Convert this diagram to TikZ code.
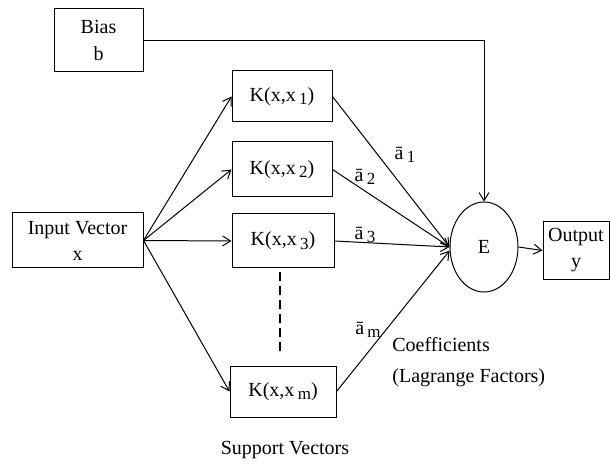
\documentclass[tikz,border=0pt]{standalone}
\usepackage{fontspec}
\setmainfont{Liberation Serif}
\usetikzlibrary{arrows.meta,calc,shapes.geometric}

\newcommand{\lowsub}[1]{\raisebox{-0.4ex}{\fontsize{8.5}{10}\selectfont #1}}

\tikzset{
  blockbox/.style={draw, line width=0.5pt, inner sep=0pt, align=center,
    font=\fontsize{10}{13}\selectfont},
  sumnode/.style={draw, ellipse, line width=0.5pt, inner sep=0pt,
    minimum width=34pt, minimum height=45pt, font=\fontsize{10}{12}\selectfont},
  wire/.style={line width=0.5pt, -{Straight Barb[length=4pt,width=5pt]}},
  coeflabel/.style={inner sep=0pt, font=\fontsize{10}{12}\selectfont},
  plaintext/.style={inner sep=0pt, align=left, font=\fontsize{10}{12}\selectfont}
}

\begin{document}
\begin{tikzpicture}[x=0.5pt, y=-0.5pt]

  \useasboundingbox (0,0) rectangle (610,470);

  % Boxes
  \node[blockbox, minimum width=44.5pt, minimum height=31.5pt] (bias) at (98.5, 40.5) {Bias\\[0.5pt]b};
  \node[blockbox, minimum width=65.5pt, minimum height=27.5pt] (input) at (77.5, 240.5) {Input Vector\\x};

  \node[blockbox, minimum width=50pt, minimum height=25.5pt] (k1) at (282, 96.5) {K(x,x\,\lowsub{1})};
  \node[blockbox, minimum width=50pt, minimum height=27.5pt] (k2) at (282, 169.5) {K(x,x\,\lowsub{2})};
  \node[blockbox, minimum width=51pt, minimum height=27pt] (k3) at (283, 241) {K(x,x\,\lowsub{3})};
  \node[blockbox, minimum width=53pt, minimum height=25.5pt] (km) at (283, 391.5) {K(x,x\,\lowsub{m})};

  \node[sumnode] (e) at (484, 247) {E};
  \node[blockbox, minimum width=33pt, minimum height=28.5pt] (output) at (576, 250.5) {Output\\y};

  % Input to kernels
  \foreach \k in {k1, k2, k3, km} {
    \draw[wire] (input.east) -- (\k.west);
  }

  % Kernels to summation
  \foreach \k in {k1, k2, k3} {
    \draw[wire] (\k.east) -- (e.west);
  }
  \draw[wire] (km.east) -- (e.186);

  % Bias and output
  \draw[wire] (bias.east) -| (e.north);
  \draw[wire] (e.east) -- (output.west);

  % Dots between kernels
  \coordinate (dtop) at (280, 272);
  \coordinate (dbot) at (280, 354);
  \draw[line width=1pt, dash pattern=on 4.5pt off 2.5pt] (dtop) -- (dbot);

  % Coefficient labels
  \node[coeflabel] (la1) at (405, 155) {ā\,\lowsub{1}};
  \node[coeflabel] (la2) at (365, 177) {ā\,\lowsub{2}};
  \node[coeflabel] (la3) at (365, 235) {ā\,\lowsub{3}};
  \node[coeflabel] (lam) at (368, 330) {ā\,\lowsub{m}};

  \node[plaintext, anchor=west] (coef) at (392, 345) {Coefficients};
  \node[plaintext, anchor=west] (lagr) at (392, 378) {(Lagrange Factors)};
  \node[plaintext] (supp) at (285, 450) {Support Vectors};

\end{tikzpicture}
\end{document}
